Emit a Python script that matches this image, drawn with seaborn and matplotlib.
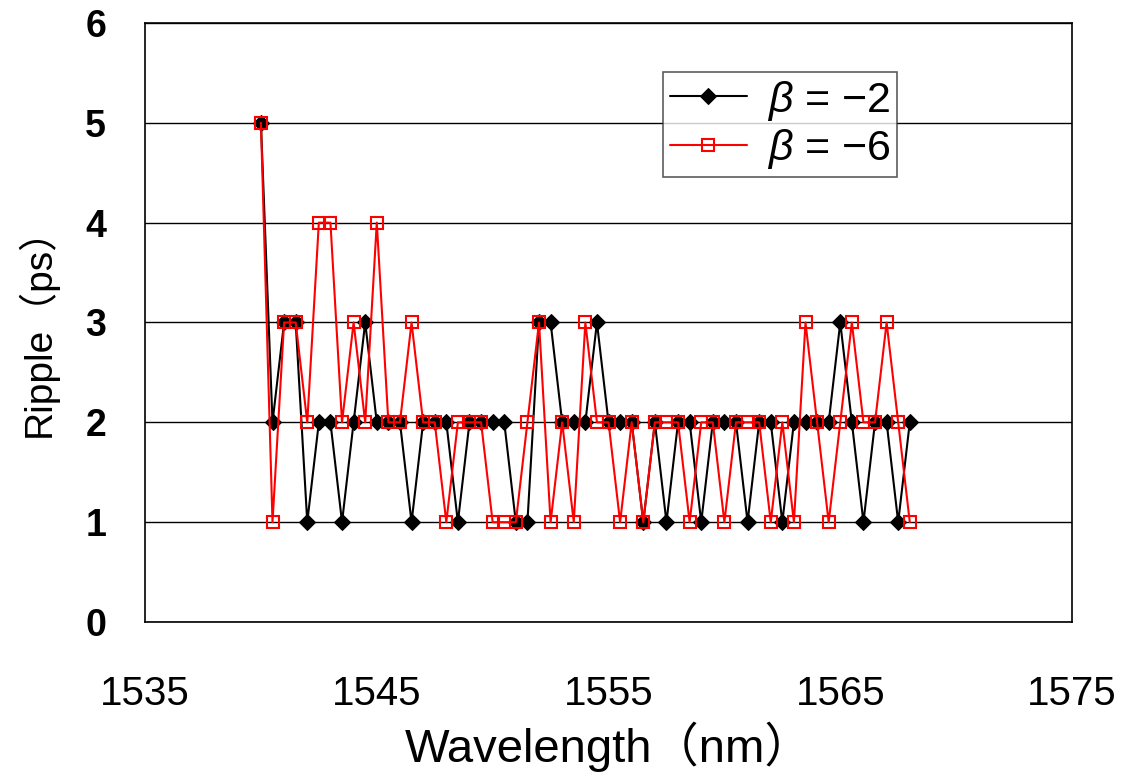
import numpy as np
import pandas as pd
import matplotlib
matplotlib.use("Agg")
import matplotlib.pyplot as plt
import seaborn as sns

wavelength = [1540 + 0.5 * i for i in range(57)]
ripple_b2 = [5, 2, 3, 3, 1, 2, 2, 1, 2, 3, 2, 2, 2, 1, 2, 2, 2, 1, 2, 2,
             2, 2, 1, 1, 3, 3, 2, 2, 2, 3, 2, 2, 2, 1, 2, 1, 2, 2, 1, 2,
             2, 2, 1, 2, 2, 1, 2, 2, 2, 2, 3, 2, 1, 2, 2, 1, 2]
ripple_b6 = [5, 1, 3, 3, 2, 4, 4, 2, 3, 2, 4, 2, 2, 3, 2, 2, 1, 2, 2, 2,
             1, 1, 1, 2, 3, 1, 2, 1, 3, 2, 2, 1, 2, 1, 2, 2, 2, 1, 2, 2,
             1, 2, 2, 2, 1, 2, 1, 3, 2, 1, 2, 3, 2, 2, 3, 2, 1]
labels = [r"$\beta$ = −2", r"$\beta$ = −6"]
x_ticks = [1535, 1545, 1555, 1565, 1575]
y_ticks = [0, 1, 2, 3, 4, 5, 6]

sns.set_style("white")
plt.rcParams['font.family'] = ['Liberation Sans', 'Noto Sans CJK JP', 'DejaVu Sans']
plt.rcParams['mathtext.fontset'] = 'custom'
plt.rcParams['mathtext.it'] = 'Liberation Sans:italic'
for k in ['text.color', 'axes.labelcolor', 'xtick.color', 'ytick.color']:
    plt.rcParams[k] = 'black'

df = pd.DataFrame({
    "wl": wavelength * 2,
    "ripple": ripple_b2 + ripple_b6,
    "series": [labels[0]] * len(wavelength) + [labels[1]] * len(wavelength),
})

fig = plt.figure(figsize=(11.27, 7.78), dpi=100)
ax = fig.add_axes([0.1287, 0.2005, 0.8225, 0.77])

sns.lineplot(data=df[df.series == labels[0]], x="wl", y="ripple", ax=ax,
             color="black", lw=1.5, marker="D", markersize=8,
             markerfacecolor="black", markeredgecolor="black",
             label=labels[0], sort=False)
sns.lineplot(data=df[df.series == labels[1]], x="wl", y="ripple", ax=ax,
             color="red", lw=1.5, marker="s", markersize=9,
             markerfacecolor="none", markeredgecolor="red", markeredgewidth=1.5,
             label=labels[1], sort=False)

ax.set_xlim(1535, 1575)
ax.set_ylim(0, 6)
ax.set_xticks(x_ticks)
ax.set_yticks(y_ticks)
ax.yaxis.grid(True, color="black", lw=1)
ax.xaxis.grid(False)
for s in ax.spines.values():
    s.set_color("black")
    s.set_linewidth(1.2)

ax.tick_params(axis="x", length=0, pad=38, labelsize=29)
ax.tick_params(axis="y", length=0, pad=28, labelsize=27)
for t in ax.get_yticklabels():
    t.set_fontweight("bold")

ax.set_xlabel("Wavelength（nm）", fontsize=34, labelpad=6)
ax.set_ylabel("Ripple（ps）", fontsize=28, labelpad=20)

leg = ax.legend(loc="upper left", bbox_to_anchor=(0.559, 0.918),
                borderaxespad=0,
                fontsize=31, frameon=True, fancybox=False, edgecolor="#333333",
                handlelength=1.8, borderpad=0.15, labelspacing=0.1,
                handletextpad=0.45)
leg.get_frame().set_linewidth(1.2)

fig.savefig("out.png", dpi=100)
